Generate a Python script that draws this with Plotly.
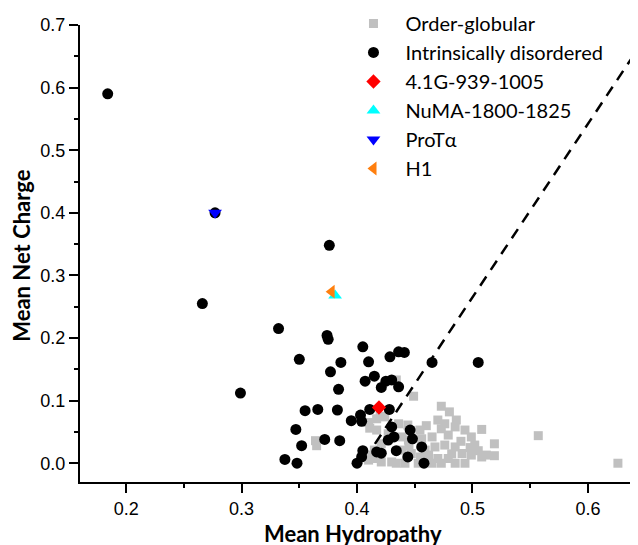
import plotly.graph_objects as go

# ---------------- data ----------------
ordered_h = [0.364, 0.365, 0.434, 0.449, 0.473, 0.480, 0.486, 0.508, 0.519, 0.519,
             0.417, 0.424, 0.411, 0.444, 0.4545, 0.465, 0.473, 0.479, 0.4935, 0.499,
             0.502, 0.485, 0.476, 0.4675, 0.491, 0.499, 0.508, 0.470, 0.479, 0.465,
             0.473, 0.485, 0.4935, 0.453, 0.4415, 0.430, 0.421, 0.439, 0.447, 0.459,
             0.462, 0.439, 0.4445, 0.410, 0.436, 0.427, 0.421, 0.415, 0.470, 0.476,
             0.485, 0.456, 0.512, 0.417, 0.408, 0.414, 0.434, 0.557, 0.626, 0.490,
             0.505, 0.482, 0.455, 0.445, 0.410, 0.420, 0.460, 0.498]
ordered_r = [0.036, 0.028, 0.133, 0.107, 0.091, 0.082, 0.069, 0.054, 0.031, 0.012,
             0.071, 0.074, 0.056, 0.061, 0.053, 0.042, 0.055, 0.045, 0.053, 0.042,
             0.029, 0.026, 0.029, 0.026, 0.0155, 0.013, 0.010, 0.0075, 0.0075, 0.0,
             0.0, 0.0, 0.0, 0.0, 0.0, 0.002, 0.002, 0.021, 0.0155, 0.021,
             0.013, 0.042, 0.037, 0.005, 0.063, 0.047, 0.031, 0.021, 0.069, 0.063,
             0.058, 0.039, 0.013, 0.053, 0.013, 0.0075, 0.0, 0.044, 0.0, 0.035,
             0.020, 0.015, 0.010, 0.028, 0.065, 0.075, 0.060, 0.025]

idp_h = [0.184, 0.277, 0.376, 0.266, 0.299, 0.505, 0.465, 0.332, 0.374, 0.375,
         0.405, 0.350, 0.386, 0.410, 0.4285, 0.436, 0.441, 0.377, 0.384, 0.407,
         0.415, 0.425, 0.430, 0.421, 0.436, 0.355, 0.366, 0.383, 0.395, 0.403,
         0.404, 0.411, 0.428, 0.347, 0.372, 0.385, 0.352, 0.3375, 0.348, 0.430,
         0.432, 0.427, 0.405, 0.404, 0.400, 0.417, 0.421, 0.434, 0.444, 0.446,
         0.448, 0.456, 0.458]
idp_r = [0.590, 0.400, 0.348, 0.255, 0.112, 0.161, 0.161, 0.215, 0.204, 0.198,
         0.186, 0.166, 0.161, 0.162, 0.170, 0.178, 0.177, 0.146, 0.118, 0.131,
         0.139, 0.131, 0.133, 0.121, 0.122, 0.084, 0.086, 0.085, 0.068, 0.077,
         0.067, 0.086, 0.086, 0.054, 0.038, 0.036, 0.028, 0.006, 0.000, 0.058,
         0.042, 0.037, 0.020, 0.010, 0.000, 0.018, 0.016, 0.020, 0.010, 0.053,
         0.039, 0.026, 0.000]

g41_h, g41_r = [0.419], [0.089]
numa_h, numa_r = [0.381], [0.268]
prota_h, prota_r = [0.277], [0.400]
h1_h, h1_r = [0.378], [0.274]

boundary_h = [0.4155, 0.66]
boundary_slope = 2.77
boundary_intercept = -1.12
boundary_r = [boundary_slope * h + boundary_intercept for h in boundary_h]

x_ticks = [0.2, 0.3, 0.4, 0.5, 0.6]
y_ticks = [0.0, 0.1, 0.2, 0.3, 0.4, 0.5, 0.6, 0.7]

# ---------------- figure ----------------
fig = go.Figure()

fig.add_trace(go.Scatter(x=ordered_h, y=ordered_r, mode="markers", name="Order-globular",
                         legendgroup="a",
                         marker=dict(symbol="square", size=9, color="#c0c0c0", line=dict(width=0))))
fig.add_trace(go.Scatter(x=boundary_h, y=boundary_r, mode="lines", showlegend=False,
                         line=dict(color="black", width=2.5, dash="11px,8px")))
fig.add_trace(go.Scatter(x=idp_h, y=idp_r, mode="markers", name="Intrinsically disordered",
                         legendgroup="b",
                         marker=dict(symbol="circle", size=11, color="black", line=dict(width=0))))
fig.add_trace(go.Scatter(x=g41_h, y=g41_r, mode="markers", name="4.1G-939-1005",
                         legendgroup="c",
                         marker=dict(symbol="diamond", size=11, color="#ff0000", line=dict(width=0))))
fig.add_trace(go.Scatter(x=numa_h, y=numa_r, mode="markers", name="NuMA-1800-1825",
                         legendgroup="d",
                         marker=dict(symbol="triangle-up", size=12, color="#00ffff", line=dict(width=0))))
fig.add_trace(go.Scatter(x=prota_h, y=prota_r, mode="markers", name="ProTα",
                         legendgroup="e",
                         marker=dict(symbol="triangle-down", size=12, color="#0000ff", line=dict(width=0))))
fig.add_trace(go.Scatter(x=h1_h, y=h1_r, mode="markers", name="H1",
                         legendgroup="f",
                         marker=dict(symbol="triangle-left", size=12, color="#ff7f0e", line=dict(width=0))))

axis_common = dict(
    showgrid=False, zeroline=False, showline=True, linecolor="black", linewidth=2,
    ticks="outside", ticklen=9, tickwidth=1.5, tickcolor="black", mirror=False,
    tickfont=dict(family="Liberation Sans, Arial", size=18, color="black"),
)

# the page body has an 8px margin, so the figure is laid out 8px up/left
fig.update_layout(
    width=638, height=545,
    margin=dict(l=72, r=8, t=17, b=70.5, autoexpand=False),
    paper_bgcolor="white", plot_bgcolor="white",
    showlegend=True,
    legend=dict(x=0.4686, y=1.046, xanchor="left", yanchor="top",
                bgcolor="rgba(0,0,0,0)", borderwidth=0,
                font=dict(family="Lato, Open Sans", size=20, color="black"),
                itemwidth=54, tracegroupgap=0),
    xaxis=dict(range=[0.160, 0.6434], tickvals=x_ticks, ticktext=[f"{v:.1f}" for v in x_ticks],
               minor=dict(dtick=0.05, tick0=0.0, ticks="outside", ticklen=4, tickwidth=1.5, tickcolor="black"),
               **axis_common),
    yaxis=dict(range=[-0.030, 0.70], tickvals=y_ticks, ticktext=[f"{v:.1f}" for v in y_ticks],
               minor=dict(dtick=0.05, tick0=0.0, ticks="outside", ticklen=4, tickwidth=1.5, tickcolor="black"),
               **axis_common),
    annotations=[
        dict(text="<b>Mean Hydropathy</b>", xref="paper", yref="paper",
             x=(353 - 80) / 558, y=-(534 - 482.5) / 457.5, xanchor="center", yanchor="middle",
             showarrow=False, font=dict(family="Lato, Open Sans", size=22, color="black")),
        dict(text="<b>Mean Net Charge</b>", xref="paper", yref="paper",
             x=-(80 - 22) / 558, y=(482.5 - 256) / 457.5, xanchor="center", yanchor="middle",
             textangle=-90, showarrow=False, font=dict(family="Lato, Open Sans", size=22, color="black")),
    ],
)

fig.write_html("out.html")
